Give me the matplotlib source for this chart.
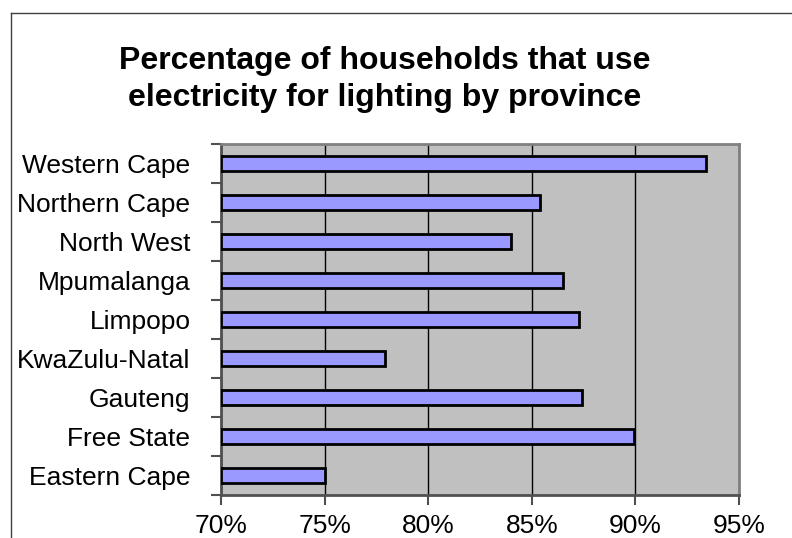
import matplotlib
matplotlib.use("Agg")
import matplotlib.pyplot as plt
from matplotlib.lines import Line2D
from matplotlib.ticker import FixedLocator, NullFormatter, FuncFormatter
import numpy as np

plt.rcParams["font.family"] = ["Liberation Sans", "DejaVu Sans"]

provinces = [
    "Eastern Cape", "Free State", "Gauteng", "KwaZulu-Natal", "Limpopo",
    "Mpumalanga", "North West", "Northern Cape", "Western Cape",
]
pct_electric = [75.0, 89.95, 87.4, 77.9, 87.3, 86.5, 84.0, 85.4, 93.4]
x_ticks = [70, 75, 80, 85, 90, 95]

fig = plt.figure(figsize=(7.92, 5.38), dpi=100)
ax = fig.add_axes([221 / 792, 1 - 495 / 538, (739 - 221) / 792, (495 - 144) / 538])

ax.set_facecolor("#c0c0c0")
y = np.arange(len(provinces))
ax.barh(y, [v - 70 for v in pct_electric], left=70, height=0.4,
        color="#9999ff", edgecolor="black", linewidth=2, zorder=3)

ax.set_xlim(70, 95)
ax.set_ylim(-0.5, len(provinces) - 0.5)
ax.set_xticks(x_ticks)
ax.xaxis.set_major_formatter(FuncFormatter(lambda v, _: f"{v:.0f}%"))
ax.grid(True, axis="x", color="black", linewidth=1, zorder=1)

# category labels centred, tick marks on the category boundaries
ax.yaxis.set_major_locator(FixedLocator(np.arange(-0.5, len(provinces), 1.0)))
ax.yaxis.set_major_formatter(NullFormatter())
ax.yaxis.set_minor_locator(FixedLocator(y))
ax.set_yticklabels(provinces, minor=True)
ax.tick_params(axis="y", which="minor", length=0, pad=22, labelsize=19)
ax.tick_params(axis="y", which="major", length=7, width=1.5, color="#505050", direction="out")
ax.tick_params(axis="x", length=7, width=1.5, color="#505050", pad=7, labelsize=19)

for side in ["left", "bottom"]:
    ax.spines[side].set_color("#505050")
    ax.spines[side].set_linewidth(2)
for side in ["right", "top"]:
    ax.spines[side].set_color("#808080")
    ax.spines[side].set_linewidth(2)

fig.text(0.486, 0.853, "Percentage of households that use\nelectricity for lighting by province",
         ha="center", va="center", fontsize=23, fontweight="bold", linespacing=1.3)

# chart frame (cut off at right and bottom)
fig.add_artist(Line2D([10.5 / 792, 10.5 / 792], [0, 1 - 13 / 538], color="#404040", linewidth=1))
fig.add_artist(Line2D([10.5 / 792, 1], [1 - 13 / 538, 1 - 13 / 538], color="#404040", linewidth=1))

fig.savefig("out.png", dpi=100)
